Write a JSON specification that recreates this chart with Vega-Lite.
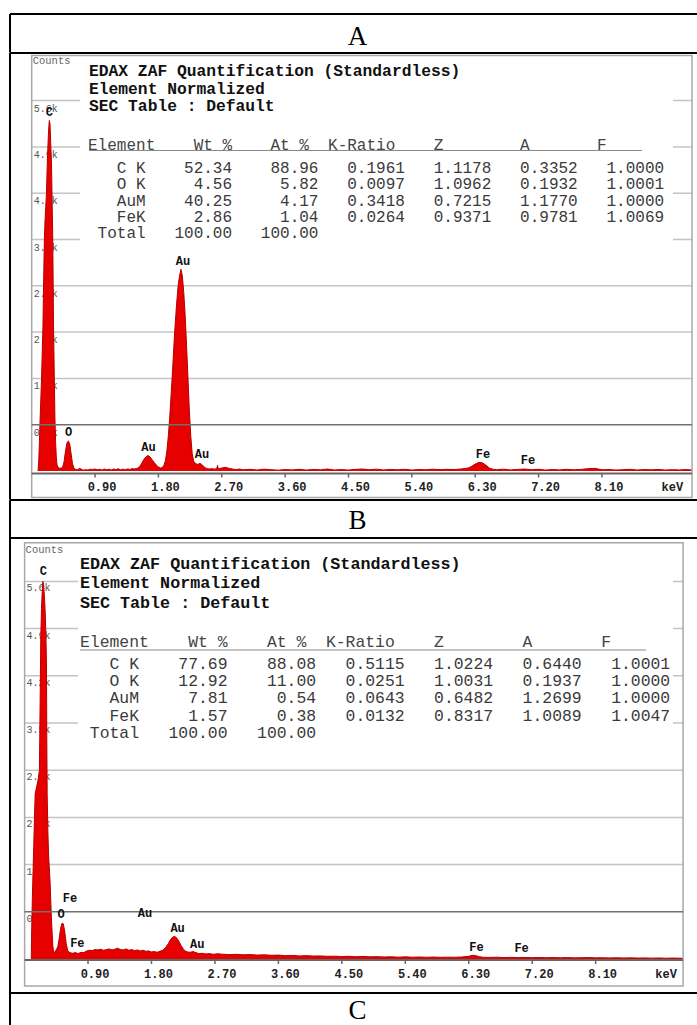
{
"$schema": "https://vega.github.io/schema/vega-lite/v6.json",
"padding": {"left": 9, "top": 13, "right": 0, "bottom": 0},
"autosize": {"type": "pad"},
"spacing": 0,
"bounds": "flush",
"config": {"view": {"stroke": null}, "axis": {"disable": true}, "legend": {"disable": true}, "font": "Liberation Mono"},
"datasets": {
"grid": [{"c":700,"label":"0.7k"},{"c":1400,"label":"1.4k"},{"c":2100,"label":"2.1k"},{"c":2800,"label":"2.8k"},{"c":3500,"label":"3.5k"},{"c":4200,"label":"4.2k"},{"c":4900,"label":"4.9k"},{"c":5600,"label":"5.6k"}],
"ticks": [{"e":0.9,"label":"0.90"},{"e":1.8,"label":"1.80"},{"e":2.7,"label":"2.70"},{"e":3.6,"label":"3.60"},{"e":4.5,"label":"4.50"},{"e":5.4,"label":"5.40"},{"e":6.3,"label":"6.30"},{"e":7.2,"label":"7.20"},{"e":8.1,"label":"8.10"},{"e":9.0,"label":"keV"}],
"s1": [{"e":0.09,"c":0},{"e":0.10,"c":150},{"e":0.11,"c":450},{"e":0.12,"c":800},{"e":0.13,"c":1100},{"e":0.14,"c":1400},{"e":0.15,"c":1800},{"e":0.16,"c":2200},{"e":0.17,"c":2900},{"e":0.18,"c":3500},{"e":0.19,"c":3800},{"e":0.20,"c":4000},{"e":0.21,"c":4200},{"e":0.22,"c":4600},{"e":0.23,"c":4900},{"e":0.24,"c":5150},{"e":0.25,"c":5300},{"e":0.26,"c":5250},{"e":0.27,"c":4950},{"e":0.28,"c":4700},{"e":0.29,"c":4100},{"e":0.30,"c":3450},{"e":0.31,"c":2200},{"e":0.32,"c":1500},{"e":0.33,"c":800},{"e":0.34,"c":420},{"e":0.35,"c":200},{"e":0.36,"c":90},{"e":0.38,"c":50},{"e":0.40,"c":40},{"e":0.42,"c":45},{"e":0.44,"c":60},{"e":0.46,"c":140},{"e":0.48,"c":300},{"e":0.50,"c":420},{"e":0.52,"c":455},{"e":0.54,"c":410},{"e":0.56,"c":260},{"e":0.58,"c":110},{"e":0.60,"c":45},{"e":0.62,"c":25},{"e":0.65,"c":18},{"e":0.68,"c":40},{"e":0.70,"c":30},{"e":0.73,"c":12},{"e":0.76,"c":20},{"e":0.80,"c":15},{"e":0.83,"c":28},{"e":0.86,"c":22},{"e":0.90,"c":30},{"e":0.93,"c":18},{"e":0.96,"c":25},{"e":1.00,"c":14},{"e":1.03,"c":30},{"e":1.06,"c":20},{"e":1.10,"c":26},{"e":1.13,"c":15},{"e":1.16,"c":30},{"e":1.20,"c":22},{"e":1.23,"c":35},{"e":1.26,"c":18},{"e":1.30,"c":28},{"e":1.33,"c":20},{"e":1.36,"c":32},{"e":1.40,"c":24},{"e":1.43,"c":38},{"e":1.46,"c":30},{"e":1.50,"c":42},{"e":1.53,"c":60},{"e":1.56,"c":110},{"e":1.59,"c":170},{"e":1.62,"c":210},{"e":1.65,"c":235},{"e":1.68,"c":215},{"e":1.71,"c":170},{"e":1.74,"c":130},{"e":1.77,"c":90},{"e":1.80,"c":60},{"e":1.83,"c":45},{"e":1.86,"c":55},{"e":1.88,"c":90},{"e":1.90,"c":160},{"e":1.92,"c":300},{"e":1.94,"c":520},{"e":1.96,"c":800},{"e":1.98,"c":1150},{"e":2.00,"c":1500},{"e":2.02,"c":1900},{"e":2.04,"c":2250},{"e":2.06,"c":2550},{"e":2.08,"c":2800},{"e":2.10,"c":2950},{"e":2.12,"c":3050},{"e":2.14,"c":2950},{"e":2.16,"c":2700},{"e":2.18,"c":2350},{"e":2.20,"c":1900},{"e":2.22,"c":1400},{"e":2.24,"c":900},{"e":2.26,"c":520},{"e":2.28,"c":260},{"e":2.30,"c":150},{"e":2.33,"c":110},{"e":2.36,"c":100},{"e":2.39,"c":115},{"e":2.42,"c":95},{"e":2.45,"c":60},{"e":2.48,"c":40},{"e":2.52,"c":30},{"e":2.56,"c":35},{"e":2.60,"c":28},{"e":2.63,"c":40},{"e":2.64,"c":85},{"e":2.65,"c":30},{"e":2.70,"c":45},{"e":2.75,"c":55},{"e":2.80,"c":40},{"e":2.85,"c":30},{"e":2.90,"c":22},{"e":2.95,"c":30},{"e":3.00,"c":18},{"e":3.1,"c":25},{"e":3.2,"c":15},{"e":3.3,"c":28},{"e":3.4,"c":20},{"e":3.5,"c":12},{"e":3.6,"c":22},{"e":3.7,"c":16},{"e":3.8,"c":26},{"e":3.9,"c":14},{"e":4.0,"c":24},{"e":4.1,"c":18},{"e":4.2,"c":30},{"e":4.3,"c":15},{"e":4.4,"c":22},{"e":4.5,"c":14},{"e":4.6,"c":25},{"e":4.7,"c":30},{"e":4.8,"c":20},{"e":4.9,"c":28},{"e":5.0,"c":16},{"e":5.1,"c":24},{"e":5.2,"c":18},{"e":5.3,"c":26},{"e":5.4,"c":14},{"e":5.5,"c":22},{"e":5.6,"c":18},{"e":5.7,"c":28},{"e":5.8,"c":20},{"e":5.9,"c":25},{"e":6.0,"c":22},{"e":6.1,"c":30},{"e":6.2,"c":45},{"e":6.25,"c":70},{"e":6.30,"c":105},{"e":6.35,"c":130},{"e":6.40,"c":125},{"e":6.45,"c":90},{"e":6.50,"c":45},{"e":6.55,"c":28},{"e":6.6,"c":20},{"e":6.7,"c":28},{"e":6.8,"c":16},{"e":6.9,"c":24},{"e":7.0,"c":30},{"e":7.1,"c":20},{"e":7.2,"c":26},{"e":7.3,"c":14},{"e":7.4,"c":22},{"e":7.5,"c":16},{"e":7.6,"c":25},{"e":7.7,"c":18},{"e":7.8,"c":24},{"e":7.9,"c":35},{"e":8.0,"c":40},{"e":8.05,"c":30},{"e":8.1,"c":18},{"e":8.2,"c":22},{"e":8.3,"c":14},{"e":8.4,"c":20},{"e":8.5,"c":25},{"e":8.6,"c":15},{"e":8.7,"c":22},{"e":8.8,"c":18},{"e":8.9,"c":24},{"e":9.0,"c":14},{"e":9.1,"c":20},{"e":9.2,"c":16},{"e":9.3,"c":22},{"e":9.37,"c":15}],
"s2": [{"e":0.095,"c":0},{"e":0.10,"c":400},{"e":0.11,"c":900},{"e":0.12,"c":1300},{"e":0.13,"c":1700},{"e":0.14,"c":2100},{"e":0.15,"c":2450},{"e":0.17,"c":2550},{"e":0.19,"c":2650},{"e":0.21,"c":2800},{"e":0.22,"c":3800},{"e":0.23,"c":4800},{"e":0.24,"c":5200},{"e":0.25,"c":5450},{"e":0.26,"c":5600},{"e":0.27,"c":5550},{"e":0.28,"c":5400},{"e":0.29,"c":5200},{"e":0.30,"c":4900},{"e":0.31,"c":4400},{"e":0.315,"c":3300},{"e":0.32,"c":2450},{"e":0.33,"c":1900},{"e":0.34,"c":1550},{"e":0.35,"c":1350},{"e":0.36,"c":1180},{"e":0.37,"c":900},{"e":0.38,"c":620},{"e":0.39,"c":400},{"e":0.40,"c":200},{"e":0.41,"c":110},{"e":0.43,"c":100},{"e":0.45,"c":140},{"e":0.47,"c":180},{"e":0.49,"c":300},{"e":0.51,"c":450},{"e":0.53,"c":530},{"e":0.55,"c":520},{"e":0.57,"c":400},{"e":0.59,"c":230},{"e":0.61,"c":130},{"e":0.63,"c":100},{"e":0.66,"c":90},{"e":0.68,"c":85},{"e":0.72,"c":95},{"e":0.76,"c":80},{"e":0.80,"c":100},{"e":0.84,"c":95},{"e":0.88,"c":120},{"e":0.92,"c":130},{"e":0.96,"c":125},{"e":1.00,"c":140},{"e":1.04,"c":135},{"e":1.08,"c":145},{"e":1.12,"c":130},{"e":1.16,"c":140},{"e":1.20,"c":150},{"e":1.24,"c":135},{"e":1.28,"c":145},{"e":1.32,"c":160},{"e":1.36,"c":140},{"e":1.40,"c":135},{"e":1.44,"c":150},{"e":1.48,"c":130},{"e":1.52,"c":140},{"e":1.56,"c":125},{"e":1.60,"c":135},{"e":1.64,"c":120},{"e":1.68,"c":130},{"e":1.72,"c":115},{"e":1.76,"c":120},{"e":1.80,"c":105},{"e":1.84,"c":110},{"e":1.88,"c":100},{"e":1.92,"c":115},{"e":1.96,"c":130},{"e":2.00,"c":170},{"e":2.04,"c":230},{"e":2.07,"c":290},{"e":2.10,"c":325},{"e":2.13,"c":335},{"e":2.16,"c":310},{"e":2.19,"c":260},{"e":2.22,"c":200},{"e":2.25,"c":150},{"e":2.28,"c":120},{"e":2.31,"c":105},{"e":2.35,"c":100},{"e":2.39,"c":110},{"e":2.43,"c":95},{"e":2.47,"c":80},{"e":2.52,"c":85},{"e":2.57,"c":75},{"e":2.62,"c":80},{"e":2.68,"c":70},{"e":2.74,"c":78},{"e":2.80,"c":72},{"e":2.9,"c":65},{"e":3.0,"c":70},{"e":3.1,"c":62},{"e":3.2,"c":66},{"e":3.3,"c":58},{"e":3.4,"c":62},{"e":3.5,"c":55},{"e":3.6,"c":58},{"e":3.7,"c":50},{"e":3.8,"c":54},{"e":3.9,"c":46},{"e":4.0,"c":50},{"e":4.1,"c":44},{"e":4.2,"c":46},{"e":4.3,"c":40},{"e":4.4,"c":42},{"e":4.5,"c":36},{"e":4.6,"c":40},{"e":4.7,"c":34},{"e":4.8,"c":38},{"e":4.9,"c":32},{"e":5.0,"c":35},{"e":5.1,"c":30},{"e":5.2,"c":33},{"e":5.3,"c":28},{"e":5.4,"c":32},{"e":5.5,"c":27},{"e":5.6,"c":30},{"e":5.7,"c":26},{"e":5.8,"c":29},{"e":5.9,"c":25},{"e":6.0,"c":28},{"e":6.1,"c":26},{"e":6.2,"c":30},{"e":6.3,"c":40},{"e":6.35,"c":55},{"e":6.4,"c":50},{"e":6.45,"c":35},{"e":6.5,"c":26},{"e":6.6,"c":24},{"e":6.7,"c":27},{"e":6.8,"c":22},{"e":6.9,"c":25},{"e":7.0,"c":21},{"e":7.1,"c":24},{"e":7.2,"c":20},{"e":7.3,"c":23},{"e":7.4,"c":19},{"e":7.5,"c":22},{"e":7.6,"c":18},{"e":7.7,"c":21},{"e":7.8,"c":17},{"e":7.9,"c":20},{"e":8.0,"c":22},{"e":8.1,"c":17},{"e":8.2,"c":19},{"e":8.3,"c":16},{"e":8.4,"c":18},{"e":8.5,"c":15},{"e":8.6,"c":17},{"e":8.7,"c":14},{"e":8.8,"c":16},{"e":8.9,"c":13},{"e":9.0,"c":15},{"e":9.1,"c":12},{"e":9.2,"c":14},{"e":9.33,"c":11}],
"p1": [{"e":0.25,"c":5425,"label":"C"},{"e":0.525,"c":587,"label":"O"},{"e":1.66,"c":370,"label":"Au"},{"e":2.15,"c":3172,"label":"Au"},{"e":2.42,"c":250,"label":"Au"},{"e":6.41,"c":260,"label":"Fe"},{"e":7.05,"c":170,"label":"Fe"}],
"p2": [{"e":0.265,"c":5754,"label":"C"},{"e":0.644,"c":905,"label":"Fe"},{"e":0.516,"c":672,"label":"O"},{"e":0.748,"c":233,"label":"Fe"},{"e":1.708,"c":687,"label":"Au"},{"e":2.17,"c":464,"label":"Au"},{"e":2.45,"c":218,"label":"Au"},{"e":6.41,"c":178,"label":"Fe"},{"e":7.05,"c":159,"label":"Fe"}]
},
"vconcat": [
{
"width": 687, "height": 38.5,
"data": {"values": [{"t": "A"}]},
"layer": [
{"mark": {"type": "text", "font": "Liberation Serif", "fontSize": 27, "baseline": "middle", "align": "center", "dx": 4, "fill": "black"},
 "encoding": {"text": {"field": "t"}, "x": {"datum": 0.5, "scale": {"domain": [0,1], "nice": false, "zero": false}}, "y": {"datum": 0.40, "scale": {"domain": [0,1], "nice": false, "zero": false}}}},
{"mark": {"type": "rule", "stroke": "black", "strokeWidth": 2}, "encoding": {"x": {"datum": 0, "scale": {"domain": [0,1], "nice": false, "zero": false}}, "x2": {"datum": 1}, "y": {"datum": 1, "scale": {"domain": [0,1], "nice": false, "zero": false}}}},
{"mark": {"type": "rule", "stroke": "black", "strokeWidth": 2}, "encoding": {"x": {"datum": 0, "scale": {"domain": [0,1], "nice": false, "zero": false}}, "y": {"datum": 0, "scale": {"domain": [0,1], "nice": false, "zero": false}}, "y2": {"datum": 1}}}
]
},
{
"width": 687, "height": 446.5,
"layer": [
{"data": {"name": "grid"}, "transform": [{"filter": "datum.c > 700"}], "mark": {"type": "rule", "stroke": "#c4c4c4", "strokeWidth": 1.5},
 "encoding": {"y": {"field": "c", "type": "quantitative", "scale": {"domain": [-431,6320], "nice": false, "zero": false}}, "x": {"datum": 0, "scale": {"domain": [-0.3082,9.4503], "nice": false, "zero": false}}, "x2": {"datum": 9.38}}},
{"data": {"values": [{}]}, "mark": {"type": "rect", "fill": "white"},
 "encoding": {"x": {"datum": 0.686, "scale": {"domain": [-0.3082,9.4503], "nice": false, "zero": false}}, "x2": {"datum": 9.11}, "y": {"datum": 3183, "scale": {"domain": [-431,6320], "nice": false, "zero": false}}, "y2": {"datum": 6260}}},
{"data": {"name": "grid"}, "mark": {"type": "text", "align": "left", "baseline": "middle", "dx": 2, "dy": 8, "fontSize": 10, "fill": "#555"},
 "encoding": {"y": {"field": "c", "type": "quantitative", "scale": {"domain": [-431,6320], "nice": false, "zero": false}}, "x": {"datum": 0, "scale": {"domain": [-0.3082,9.4503], "nice": false, "zero": false}}, "text": {"field": "label"}}},
{"data": {"values": [{}]}, "mark": {"type": "rect", "fill": "white", "fillOpacity": 0, "stroke": "#a8a8a8", "strokeWidth": 1.5},
 "encoding": {"x": {"datum": 0, "scale": {"domain": [-0.3082,9.4503], "nice": false, "zero": false}}, "x2": {"datum": 9.38}, "y": {"datum": -400, "scale": {"domain": [-431,6320], "nice": false, "zero": false}}, "y2": {"datum": 6282}}},
{"data": {"values": [{}]}, "mark": {"type": "rule", "stroke": "#666", "strokeWidth": 2},
 "encoding": {"x": {"datum": 0, "scale": {"domain": [-0.3082,9.4503], "nice": false, "zero": false}}, "x2": {"datum": 9.38}, "y": {"datum": -38, "scale": {"domain": [-431,6320], "nice": false, "zero": false}}}},
{"data": {"name": "ticks"}, "transform": [{"filter": "datum.label != 'keV'"}], "mark": {"type": "rule", "stroke": "#666", "strokeWidth": 1.5},
 "encoding": {"x": {"field": "e", "type": "quantitative", "scale": {"domain": [-0.3082,9.4503], "nice": false, "zero": false}}, "y": {"datum": -38, "scale": {"domain": [-431,6320], "nice": false, "zero": false}}, "y2": {"datum": -100}}},
{"data": {"name": "ticks"}, "mark": {"type": "text", "fontWeight": "bold", "fontSize": 12, "dx": 7, "baseline": "middle", "align": "center", "fill": "#222"},
 "encoding": {"x": {"field": "e", "type": "quantitative", "scale": {"domain": [-0.3082,9.4503], "nice": false, "zero": false}}, "y": {"datum": -249, "scale": {"domain": [-431,6320], "nice": false, "zero": false}}, "text": {"field": "label"}}},
{"data": {"name": "s1"}, "mark": {"type": "area", "fill": "#e60000", "interpolate": "linear"},
 "encoding": {"x": {"field": "e", "type": "quantitative", "scale": {"domain": [-0.3082,9.4503], "nice": false, "zero": false}}, "y": {"field": "c", "type": "quantitative", "scale": {"domain": [-431,6320], "nice": false, "zero": false}}, "y2": {"datum": 0}}},
{"data": {"name": "s1"}, "mark": {"type": "line", "stroke": "#b80000", "strokeWidth": 1},
 "encoding": {"x": {"field": "e", "type": "quantitative", "scale": {"domain": [-0.3082,9.4503], "nice": false, "zero": false}}, "y": {"field": "c", "type": "quantitative", "scale": {"domain": [-431,6320], "nice": false, "zero": false}}}},
{"data": {"name": "grid"}, "transform": [{"filter": "datum.c == 700"}], "mark": {"type": "rule", "stroke": "#707070", "strokeWidth": 1.5},
 "encoding": {"y": {"field": "c", "type": "quantitative", "scale": {"domain": [-431,6320], "nice": false, "zero": false}}, "x": {"datum": 0, "scale": {"domain": [-0.3082,9.4503], "nice": false, "zero": false}}, "x2": {"datum": 9.38}}},
{"data": {"name": "p1"}, "mark": {"type": "text", "fontWeight": "bold", "fontSize": 12, "align": "center", "baseline": "middle", "fill": "#111"},
 "encoding": {"x": {"field": "e", "type": "quantitative", "scale": {"domain": [-0.3082,9.4503], "nice": false, "zero": false}}, "y": {"field": "c", "type": "quantitative", "scale": {"domain": [-431,6320], "nice": false, "zero": false}}, "text": {"field": "label"}}},
{"data": {"values": [{"t": "Counts"}]}, "mark": {"type": "text", "align": "left", "baseline": "middle", "fontSize": 10.5, "dx": 1, "fill": "#666"},
 "encoding": {"x": {"datum": 0, "scale": {"domain": [-0.3082,9.4503], "nice": false, "zero": false}}, "y": {"datum": 6196, "scale": {"domain": [-431,6320], "nice": false, "zero": false}}, "text": {"field": "t"}}},
{"data": {"values": [{"lines": ["EDAX ZAF Quantification (Standardless)", "Element Normalized", "SEC Table : Default"]}]},
 "mark": {"type": "text", "align": "left", "baseline": "middle", "fontSize": 16.3, "fontWeight": "bold", "lineHeight": 17.5, "fill": "#111"},
 "encoding": {"x": {"datum": 0.814, "scale": {"domain": [-0.3082,9.4503], "nice": false, "zero": false}}, "y": {"datum": 6045, "scale": {"domain": [-431,6320], "nice": false, "zero": false}}, "text": {"field": "lines"}}},
{"data": {"values": [{"lines": ["Element\u00a0\u00a0\u00a0\u00a0Wt\u00a0%\u00a0\u00a0\u00a0\u00a0At\u00a0%\u00a0\u00a0K-Ratio\u00a0\u00a0\u00a0\u00a0Z\u00a0\u00a0\u00a0\u00a0\u00a0\u00a0\u00a0\u00a0A\u00a0\u00a0\u00a0\u00a0\u00a0\u00a0\u00a0F"]}]},
 "mark": {"type": "text", "align": "left", "baseline": "middle", "fontSize": 16, "fill": "#444"},
 "encoding": {"x": {"datum": 0.80, "scale": {"domain": [-0.3082,9.4503], "nice": false, "zero": false}}, "y": {"datum": 4936, "scale": {"domain": [-431,6320], "nice": false, "zero": false}}, "text": {"field": "lines"}}},
{"data": {"values": [{}]}, "mark": {"type": "rule", "stroke": "#888", "strokeWidth": 1},
 "encoding": {"x": {"datum": 0.814, "scale": {"domain": [-0.3082,9.4503], "nice": false, "zero": false}}, "x2": {"datum": 8.669}, "y": {"datum": 4846, "scale": {"domain": [-431,6320], "nice": false, "zero": false}}}},
{"data": {"values": [{"lines": [
"\u200b\u00a0\u00a0\u00a0C\u00a0K\u00a0\u00a0\u00a0\u00a052.34\u00a0\u00a0\u00a0\u00a088.96\u00a0\u00a0\u00a00.1961\u00a0\u00a0\u00a01.1178\u00a0\u00a0\u00a00.3352\u00a0\u00a0\u00a01.0000",
"\u200b\u00a0\u00a0\u00a0O\u00a0K\u00a0\u00a0\u00a0\u00a0\u00a04.56\u00a0\u00a0\u00a0\u00a0\u00a05.82\u00a0\u00a0\u00a00.0097\u00a0\u00a0\u00a01.0962\u00a0\u00a0\u00a00.1932\u00a0\u00a0\u00a01.0001",
"\u200b\u00a0\u00a0\u00a0AuM\u00a0\u00a0\u00a0\u00a040.25\u00a0\u00a0\u00a0\u00a0\u00a04.17\u00a0\u00a0\u00a00.3418\u00a0\u00a0\u00a00.7215\u00a0\u00a0\u00a01.1770\u00a0\u00a0\u00a01.0000",
"\u200b\u00a0\u00a0\u00a0FeK\u00a0\u00a0\u00a0\u00a0\u00a02.86\u00a0\u00a0\u00a0\u00a0\u00a01.04\u00a0\u00a0\u00a00.0264\u00a0\u00a0\u00a00.9371\u00a0\u00a0\u00a00.9781\u00a0\u00a0\u00a01.0069",
"\u200b\u00a0Total\u00a0\u00a0\u00a0100.00\u00a0\u00a0\u00a0100.00"]}]},
 "mark": {"type": "text", "align": "left", "baseline": "middle", "fontSize": 16, "lineHeight": 16.35, "fill": "#3a3a3a"},
 "encoding": {"x": {"datum": 0.80, "scale": {"domain": [-0.3082,9.4503], "nice": false, "zero": false}}, "y": {"datum": 4584, "scale": {"domain": [-431,6320], "nice": false, "zero": false}}, "text": {"field": "lines"}}},
{"data": {"values": [{}]}, "mark": {"type": "rule", "stroke": "black", "strokeWidth": 2},
 "encoding": {"x": {"datum": -0.3082, "scale": {"domain": [-0.3082,9.4503], "nice": false, "zero": false}}, "x2": {"datum": 9.4503}, "y": {"datum": 6320, "scale": {"domain": [-431,6320], "nice": false, "zero": false}}}},
{"data": {"values": [{}]}, "mark": {"type": "rule", "stroke": "black", "strokeWidth": 2},
 "encoding": {"x": {"datum": -0.3082, "scale": {"domain": [-0.3082,9.4503], "nice": false, "zero": false}}, "y": {"datum": -431, "scale": {"domain": [-431,6320], "nice": false, "zero": false}}, "y2": {"datum": 6320}}}
]
},
{
"width": 687, "height": 38,
"data": {"values": [{"t": "B"}]},
"layer": [
{"mark": {"type": "text", "font": "Liberation Serif", "fontSize": 27, "baseline": "middle", "align": "center", "dx": 4, "fill": "black"},
 "encoding": {"text": {"field": "t"}, "x": {"datum": 0.5, "scale": {"domain": [0,1], "nice": false, "zero": false}}, "y": {"datum": 0.45, "scale": {"domain": [0,1], "nice": false, "zero": false}}}},
{"mark": {"type": "rule", "stroke": "black", "strokeWidth": 2}, "encoding": {"x": {"datum": 0, "scale": {"domain": [0,1], "nice": false, "zero": false}}, "x2": {"datum": 1}, "y": {"datum": 1, "scale": {"domain": [0,1], "nice": false, "zero": false}}}},
{"mark": {"type": "rule", "stroke": "black", "strokeWidth": 2}, "encoding": {"x": {"datum": 0, "scale": {"domain": [0,1], "nice": false, "zero": false}}, "y": {"datum": 0, "scale": {"domain": [0,1], "nice": false, "zero": false}}, "y2": {"datum": 1}}}
]
},
{
"width": 687, "height": 455,
"layer": [
{"data": {"name": "grid"}, "transform": [{"filter": "datum.c > 700"}], "mark": {"type": "rule", "stroke": "#c4c4c4", "strokeWidth": 1.5},
 "encoding": {"y": {"field": "c", "type": "quantitative", "scale": {"domain": [-504,6244], "nice": false, "zero": false}}, "x": {"datum": 0, "scale": {"domain": [-0.2071,9.5376], "nice": false, "zero": false}}, "x2": {"datum": 9.34}}},
{"data": {"values": [{}]}, "mark": {"type": "rect", "fill": "white"},
 "encoding": {"x": {"datum": 0.757, "scale": {"domain": [-0.2071,9.5376], "nice": false, "zero": false}}, "x2": {"datum": 9.197}, "y": {"datum": 3085, "scale": {"domain": [-504,6244], "nice": false, "zero": false}}, "y2": {"datum": 6150}}},
{"data": {"name": "grid"}, "mark": {"type": "text", "align": "left", "baseline": "middle", "dx": 2, "dy": 7, "fontSize": 10, "fill": "#555"},
 "encoding": {"y": {"field": "c", "type": "quantitative", "scale": {"domain": [-504,6244], "nice": false, "zero": false}}, "x": {"datum": 0, "scale": {"domain": [-0.2071,9.5376], "nice": false, "zero": false}}, "text": {"field": "label"}}},
{"data": {"values": [{}]}, "mark": {"type": "rect", "fill": "white", "fillOpacity": 0, "stroke": "#a8a8a8", "strokeWidth": 1.5},
 "encoding": {"x": {"datum": 0, "scale": {"domain": [-0.2071,9.5376], "nice": false, "zero": false}}, "x2": {"datum": 9.34}, "y": {"datum": -400, "scale": {"domain": [-504,6244], "nice": false, "zero": false}}, "y2": {"datum": 6174}}},
{"data": {"values": [{}]}, "mark": {"type": "rule", "stroke": "#666", "strokeWidth": 2},
 "encoding": {"x": {"datum": 0, "scale": {"domain": [-0.2071,9.5376], "nice": false, "zero": false}}, "x2": {"datum": 9.34}, "y": {"datum": -15, "scale": {"domain": [-504,6244], "nice": false, "zero": false}}}},
{"data": {"name": "ticks"}, "transform": [{"filter": "datum.label != 'keV'"}], "mark": {"type": "rule", "stroke": "#666", "strokeWidth": 1.5},
 "encoding": {"x": {"field": "e", "type": "quantitative", "scale": {"domain": [-0.2071,9.5376], "nice": false, "zero": false}}, "y": {"datum": -15, "scale": {"domain": [-504,6244], "nice": false, "zero": false}}, "y2": {"datum": -74}}},
{"data": {"name": "ticks"}, "mark": {"type": "text", "fontWeight": "bold", "fontSize": 12, "dx": 7, "baseline": "middle", "align": "center", "fill": "#222"},
 "encoding": {"x": {"field": "e", "type": "quantitative", "scale": {"domain": [-0.2071,9.5376], "nice": false, "zero": false}}, "y": {"datum": -218, "scale": {"domain": [-504,6244], "nice": false, "zero": false}}, "text": {"field": "label"}}},
{"data": {"name": "s2"}, "mark": {"type": "area", "fill": "#e60000", "interpolate": "linear"},
 "encoding": {"x": {"field": "e", "type": "quantitative", "scale": {"domain": [-0.2071,9.5376], "nice": false, "zero": false}}, "y": {"field": "c", "type": "quantitative", "scale": {"domain": [-504,6244], "nice": false, "zero": false}}, "y2": {"datum": 0}}},
{"data": {"name": "s2"}, "mark": {"type": "line", "stroke": "#b80000", "strokeWidth": 1},
 "encoding": {"x": {"field": "e", "type": "quantitative", "scale": {"domain": [-0.2071,9.5376], "nice": false, "zero": false}}, "y": {"field": "c", "type": "quantitative", "scale": {"domain": [-504,6244], "nice": false, "zero": false}}}},
{"data": {"name": "grid"}, "transform": [{"filter": "datum.c == 700"}], "mark": {"type": "rule", "stroke": "#707070", "strokeWidth": 1.5},
 "encoding": {"y": {"field": "c", "type": "quantitative", "scale": {"domain": [-504,6244], "nice": false, "zero": false}}, "x": {"datum": 0, "scale": {"domain": [-0.2071,9.5376], "nice": false, "zero": false}}, "x2": {"datum": 9.34}}},
{"data": {"name": "p2"}, "mark": {"type": "text", "fontWeight": "bold", "fontSize": 12, "align": "center", "baseline": "middle", "fill": "#111"},
 "encoding": {"x": {"field": "e", "type": "quantitative", "scale": {"domain": [-0.2071,9.5376], "nice": false, "zero": false}}, "y": {"field": "c", "type": "quantitative", "scale": {"domain": [-504,6244], "nice": false, "zero": false}}, "text": {"field": "label"}}},
{"data": {"values": [{"t": "Counts"}]}, "mark": {"type": "text", "align": "left", "baseline": "middle", "fontSize": 10.5, "dx": 1, "fill": "#666"},
 "encoding": {"x": {"datum": 0, "scale": {"domain": [-0.2071,9.5376], "nice": false, "zero": false}}, "y": {"datum": 6061, "scale": {"domain": [-504,6244], "nice": false, "zero": false}}, "text": {"field": "t"}}},
{"data": {"values": [{"lines": ["EDAX ZAF Quantification (Standardless)", "Element Normalized", "SEC Table : Default"]}]},
 "mark": {"type": "text", "align": "left", "baseline": "middle", "fontSize": 16.7, "fontWeight": "bold", "lineHeight": 19.2, "fill": "#111"},
 "encoding": {"x": {"datum": 0.7858, "scale": {"domain": [-0.2071,9.5376], "nice": false, "zero": false}}, "y": {"datum": 5854, "scale": {"domain": [-504,6244], "nice": false, "zero": false}}, "text": {"field": "lines"}}},
{"data": {"values": [{"lines": ["Element\u00a0\u00a0\u00a0\u00a0Wt\u00a0%\u00a0\u00a0\u00a0\u00a0At\u00a0%\u00a0\u00a0K-Ratio\u00a0\u00a0\u00a0\u00a0Z\u00a0\u00a0\u00a0\u00a0\u00a0\u00a0\u00a0\u00a0A\u00a0\u00a0\u00a0\u00a0\u00a0\u00a0\u00a0F"]}]},
 "mark": {"type": "text", "align": "left", "baseline": "middle", "fontSize": 16.4, "fill": "#444"},
 "encoding": {"x": {"datum": 0.7858, "scale": {"domain": [-0.2071,9.5376], "nice": false, "zero": false}}, "y": {"datum": 4706, "scale": {"domain": [-504,6244], "nice": false, "zero": false}}, "text": {"field": "lines"}}},
{"data": {"values": [{}]}, "mark": {"type": "rule", "stroke": "#888", "strokeWidth": 1},
 "encoding": {"x": {"datum": 0.7858, "scale": {"domain": [-0.2071,9.5376], "nice": false, "zero": false}}, "x2": {"datum": 8.814}, "y": {"datum": 4583, "scale": {"domain": [-504,6244], "nice": false, "zero": false}}}},
{"data": {"values": [{"lines": [
"\u200b\u00a0\u00a0\u00a0C\u00a0K\u00a0\u00a0\u00a0\u00a077.69\u00a0\u00a0\u00a0\u00a088.08\u00a0\u00a0\u00a00.5115\u00a0\u00a0\u00a01.0224\u00a0\u00a0\u00a00.6440\u00a0\u00a0\u00a01.0001",
"\u200b\u00a0\u00a0\u00a0O\u00a0K\u00a0\u00a0\u00a0\u00a012.92\u00a0\u00a0\u00a0\u00a011.00\u00a0\u00a0\u00a00.0251\u00a0\u00a0\u00a01.0031\u00a0\u00a0\u00a00.1937\u00a0\u00a0\u00a01.0000",
"\u200b\u00a0\u00a0\u00a0AuM\u00a0\u00a0\u00a0\u00a0\u00a07.81\u00a0\u00a0\u00a0\u00a0\u00a00.54\u00a0\u00a0\u00a00.0643\u00a0\u00a0\u00a00.6482\u00a0\u00a0\u00a01.2699\u00a0\u00a0\u00a01.0000",
"\u200b\u00a0\u00a0\u00a0FeK\u00a0\u00a0\u00a0\u00a0\u00a01.57\u00a0\u00a0\u00a0\u00a0\u00a00.38\u00a0\u00a0\u00a00.0132\u00a0\u00a0\u00a00.8317\u00a0\u00a0\u00a01.0089\u00a0\u00a0\u00a01.0047",
"\u200b\u00a0Total\u00a0\u00a0\u00a0100.00\u00a0\u00a0\u00a0100.00"]}]},
 "mark": {"type": "text", "align": "left", "baseline": "middle", "fontSize": 16.4, "lineHeight": 17.25, "fill": "#3a3a3a"},
 "encoding": {"x": {"datum": 0.7858, "scale": {"domain": [-0.2071,9.5376], "nice": false, "zero": false}}, "y": {"datum": 4379, "scale": {"domain": [-504,6244], "nice": false, "zero": false}}, "text": {"field": "lines"}}},
{"data": {"values": [{}]}, "mark": {"type": "rule", "stroke": "black", "strokeWidth": 2},
 "encoding": {"x": {"datum": -0.2071, "scale": {"domain": [-0.2071,9.5376], "nice": false, "zero": false}}, "x2": {"datum": 9.5376}, "y": {"datum": 6244, "scale": {"domain": [-504,6244], "nice": false, "zero": false}}}},
{"data": {"values": [{}]}, "mark": {"type": "rule", "stroke": "black", "strokeWidth": 2},
 "encoding": {"x": {"datum": -0.2071, "scale": {"domain": [-0.2071,9.5376], "nice": false, "zero": false}}, "y": {"datum": -504, "scale": {"domain": [-504,6244], "nice": false, "zero": false}}, "y2": {"datum": 6244}}}
]
},
{
"width": 687, "height": 33,
"data": {"values": [{"t": "C"}]},
"layer": [
{"mark": {"type": "text", "font": "Liberation Serif", "fontSize": 27, "baseline": "middle", "align": "center", "dx": 4, "fill": "black"},
 "encoding": {"text": {"field": "t"}, "x": {"datum": 0.5, "scale": {"domain": [0,1], "nice": false, "zero": false}}, "y": {"datum": 0.45, "scale": {"domain": [0,1], "nice": false, "zero": false}}}},
{"mark": {"type": "rule", "stroke": "black", "strokeWidth": 2}, "encoding": {"x": {"datum": 0, "scale": {"domain": [0,1], "nice": false, "zero": false}}, "x2": {"datum": 1}, "y": {"datum": 1, "scale": {"domain": [0,1], "nice": false, "zero": false}}}},
{"mark": {"type": "rule", "stroke": "black", "strokeWidth": 2}, "encoding": {"x": {"datum": 0, "scale": {"domain": [0,1], "nice": false, "zero": false}}, "y": {"datum": 0, "scale": {"domain": [0,1], "nice": false, "zero": false}}, "y2": {"datum": 1}}}
]
}
]
}
